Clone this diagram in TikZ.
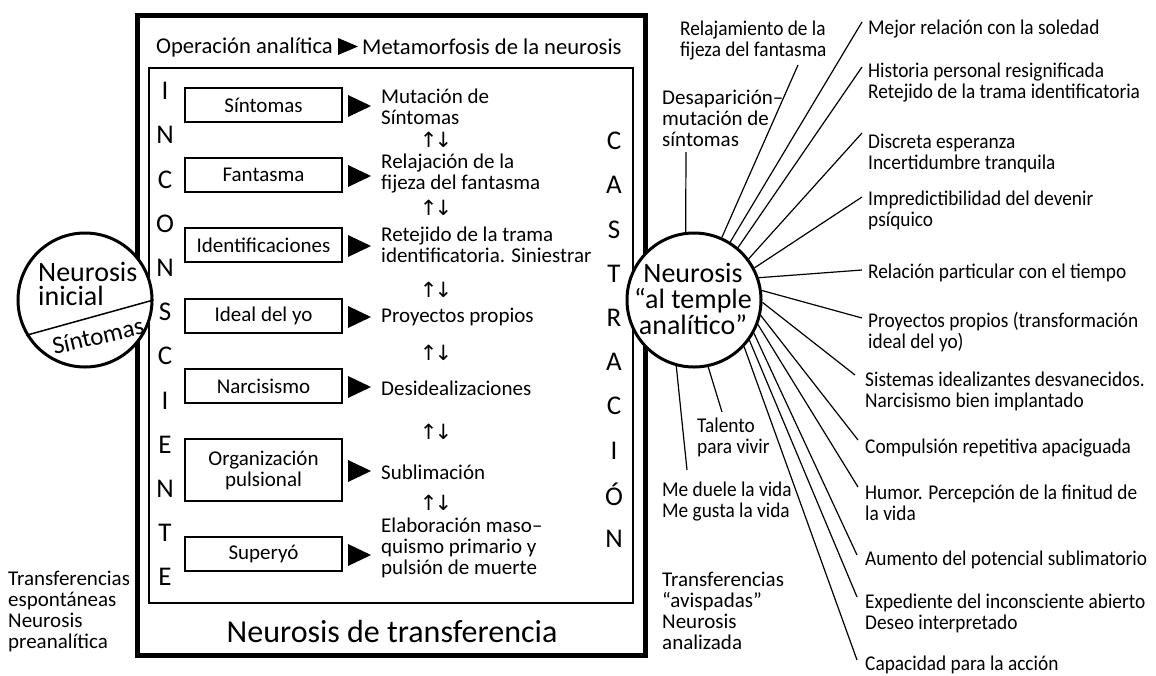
\documentclass[tikz,border=0pt]{standalone}
\usepackage{fontspec}
\setmainfont{Carlito}
\newfontfamily\labelfont{Carlito}[FakeStretch=0.92]
\newfontfamily\arrowfont{DejaVu Sans}
\begin{document}
\begin{tikzpicture}[x=1pt,y=-1pt,
  body/.style={font=\fontsize{21}{21}\selectfont, inner sep=0pt, align=left, anchor=west},
  lab/.style={body, font=\labelfont\fontsize{21}{21}\selectfont},
  titletext/.style={body, font=\fontsize{22.6}{22.6}\selectfont},
  letter/.style={font=\fontsize{27}{27}\selectfont, inner sep=0pt},
  rowbox/.style={draw, line width=2pt, minimum width=157pt, minimum height=34pt, inner sep=0pt, align=center, font=\fontsize{21}{21}\selectfont},
  ray/.style={line width=1.2pt},
  bigcircle/.style={circle, draw, line width=3pt, fill=white, minimum size=134pt, inner sep=0pt},
  circtext/.style={font=\fontsize{28}{24}\selectfont, inner sep=0pt},
  updown/.style={font=\arrowfont\fontsize{21}{21}\selectfont, inner sep=0pt}
]
\useasboundingbox (0,0) rectangle (1156,675);
% frames
\draw[line width=5pt] (137,15) rectangle (645,655);
\draw[line width=2pt] (149,68) rectangle (633,603);
% title
\node[titletext, anchor=east] (op) at (333,47) {Operación analítica};
\fill (338,38) -- (358,46.5) -- (338,55) -- cycle;
\node[titletext] (meta) at (362,47) {Metamorfosis de la neurosis};
% side letters
\foreach \l [count=\i from 0] in {I,N,C,O,N,S,C,I,E,N,T,E}
  \node[letter] (inc\i) at (165,{91+44.2*\i}) {\l};
\foreach \l [count=\i from 0] in {C,A,S,T,R,A,C,I,Ó,N}
  \node[letter] (cas\i) at (614,{141+44.2*\i}) {\l};
% row boxes
\node[rowbox] (b1) at (263.5,105) {Síntomas};
\node[rowbox] (b2) at (263.5,175) {Fantasma};
\node[rowbox] (b3) at (263.5,245) {Identificaciones};
\node[rowbox] (b4) at (263.5,316) {Ideal del yo};
\node[rowbox] (b5) at (263.5,386) {Narcisismo};
\node[rowbox, minimum height=62pt] (b6) at (263.5,470) {Organización\\pulsional};
\node[rowbox] (b7) at (263.5,554) {Superyó};
\foreach \y in {106,176,246,317,387,471,555}
  \fill (348,\y-11) -- (371,\y) -- (348,\y+11) -- cycle;
% results column
\node[body] (t1) at (381,107) {Mutación de\\Síntomas};
\node[updown] (a1) at (436,140) {↑\kern-3pt↓};
\node[body] (t2) at (381,174) {Relajación de la\\fijeza del fantasma};
\node[updown] (a2) at (436,208) {↑\kern-3pt↓};
\node[body] (t3) at (381,245) {Retejido de la trama\\identificatoria. Siniestrar};
\node[updown] (a3) at (436,290) {↑\kern-3pt↓};
\node[body] (t4) at (381,317) {Proyectos propios};
\node[updown] (a4) at (436,353) {↑\kern-3pt↓};
\node[body] (t5) at (381,388) {Desidealizaciones};
\node[updown] (a5) at (436,432) {↑\kern-3pt↓};
\node[body] (t6) at (381,472) {Sublimación};
\node[updown] (a6) at (436,503) {↑\kern-3pt↓};
\node[body] (t7) at (381,548) {Elaboración maso–\\quismo primario y\\pulsión de muerte};
\node[font=\fontsize{32}{32}\selectfont, inner sep=0pt] (nt) at (392,631) {Neurosis de transferencia};
% bottom left
\node[body] (te) at (8,611) {Transferencias\\espontáneas\\Neurosis\\preanalítica};
% left circle
\node[bigcircle] (L) at (85,300) {};
\node[circtext, align=left, anchor=west] (Lt) at (38,284) {Neurosis\\inicial};
\draw[line width=1.5pt] (L.0) -- (L.211);
\node[circtext, font=\fontsize{25}{25}\selectfont, rotate=13] (Ls) at (98,336) {Síntomas};
% right circle
\node[bigcircle] (R) at (694,300) {};
\node[circtext, align=center, font=\fontsize{28}{26}\selectfont] (Rt) at (693,299) {Neurosis\\“al temple\\analítico”};
% labels
\node[body] (d1) at (662,118) {Desaparición–\\mutación de\\síntomas};
\node[lab] (d2) at (680,41) {Relajamiento de la\\fijeza del fantasma};
\node[lab] (m1) at (868,29) {Mejor relación con la soledad};
\node[lab] (m2) at (868,83) {Historia personal resignificada\\Retejido de la trama identificatoria};
\node[lab] (m3) at (868,153) {Discreta esperanza\\Incertidumbre tranquila};
\node[lab] (m4) at (868,210) {Impredictibilidad del devenir\\psíquico};
\node[lab] (m5) at (868,273) {Relación particular con el tiempo};
\node[lab] (m6) at (868,332) {Proyectos propios (transformación\\ideal del yo)};
\node[lab] (m7) at (865,391) {Sistemas idealizantes desvanecidos.\\Narcisismo bien implantado};
\node[lab] (m8) at (865,448) {Compulsión repetitiva apaciguada};
\node[lab] (m9) at (865,503) {Humor. Percepción de la finitud de\\la vida};
\node[lab] (m10) at (865,560) {Aumento del potencial sublimatorio};
\node[lab] (m11) at (865,613) {Expediente del inconsciente abierto\\Deseo interpretado};
\node[lab] (m12) at (865,665) {Capacidad para la acción};
\node[lab] (tv) at (697,437) {Talento\\para vivir};
\node[lab] (md) at (662,502) {Me duele la vida\\Me gusta la vida};
\node[body] (ta) at (662,611) {Transferencias\\“avispadas”\\Neurosis\\analizada};
% ray ends
\coordinate (ed2) at (798,65);
\coordinate (ed1) at (686,152);
\coordinate (e1) at (862,22);
\coordinate (e2) at (862,67);
\coordinate (e3) at (862,133);
\coordinate (e4) at (862,197);
\coordinate (e5) at (862,270);
\coordinate (e6) at (862,318);
\coordinate (e7) at (855,375);
\coordinate (e8) at (858,440);
\coordinate (e9) at (858,487);
\coordinate (e10) at (857,555);
\coordinate (e11) at (857,597);
\coordinate (e12) at (857,660);
\coordinate (etv) at (722,412);
\coordinate (emd) at (687,470);
% rays
\draw[ray] (R.66) -- (ed2);
\draw[ray] (R.97) -- (ed1);
\draw[ray] (R.58) -- (e1);
\draw[ray] (R.50) -- (e2);
\draw[ray] (R.37.5) -- (e3);
\draw[ray] (R.28) -- (e4);
\draw[ray] (R.19) -- (e5);
\draw[ray] (R.8) -- (e6);
\draw[ray] (R.-2) -- (e7);
\draw[ray] (R.-13) -- (e8);
\draw[ray] (R.-21) -- (e9);
\draw[ray] (R.-29) -- (e10);
\draw[ray] (R.-36) -- (e11);
\draw[ray] (R.-43) -- (e12);
\draw[ray] (R.-78) -- (etv);
\draw[ray] (R.-105) -- (emd);
\end{tikzpicture}
\end{document}
